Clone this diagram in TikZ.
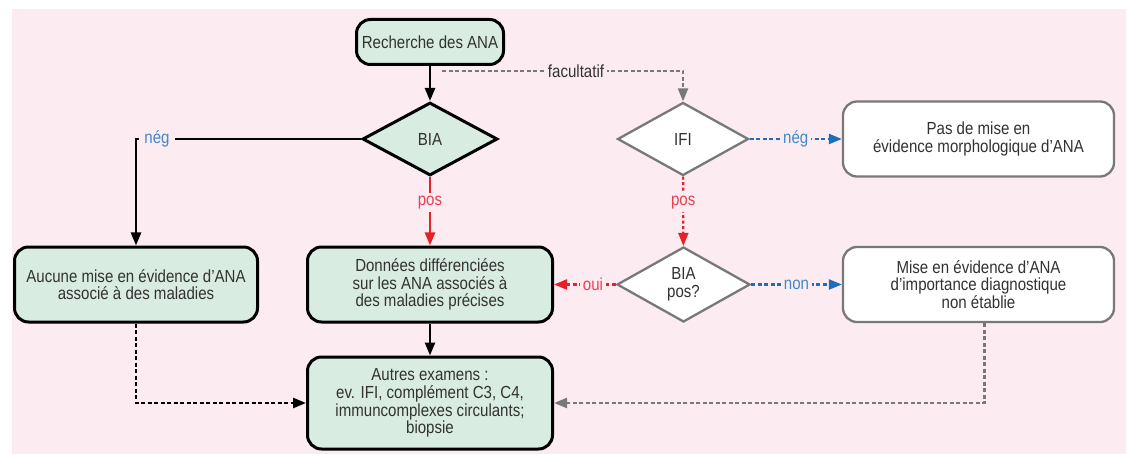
\documentclass[tikz,border=0pt]{standalone}
\usepackage{fontspec}
\setmainfont[FakeStretch=0.86]{Liberation Sans}
\usetikzlibrary{shapes.geometric,arrows.meta}
\definecolor{fondrose}{RGB}{252,236,242}
\definecolor{vertpale}{RGB}{217,236,225}
\definecolor{grisbord}{RGB}{120,120,120}
\definecolor{rouge}{RGB}{228,32,40}
\definecolor{rougeclair}{RGB}{232,64,84}
\definecolor{bleu}{RGB}{28,110,185}
\definecolor{bleuclair}{RGB}{66,136,200}
\definecolor{texte}{RGB}{50,50,50}
\tikzset{
  boite/.style={draw=black, line width=3pt, rounded corners=14pt, fill=vertpale, align=center, text=texte, inner sep=0pt},
  boiteg/.style={boite, draw=grisbord, line width=2.3pt, fill=white},
  losange/.style={diamond, draw=black, line width=3pt, fill=vertpale, inner sep=0pt, align=center, text=texte},
  losangeg/.style={losange, draw=grisbord, line width=2.3pt, fill=white},
  etiq/.style={fill=fondrose, inner sep=3pt},
  tirets/.style={dash pattern=on 4pt off 2.5pt},
}
\begin{document}
\begin{tikzpicture}[x=1pt, y=-1pt, >={Triangle[length=13pt,width=10pt]},
    every node/.style={font=\fontsize{17.5}{17.7}\selectfont}]
    % Fond
    \useasboundingbox (0,0) rectangle (1131,454);
    \fill[fondrose] (12,9) rectangle (1126,454);

    % Colonne BIA
    \node[boite, minimum width=147pt, minimum height=45pt] (recherche) at (430,42) {Recherche des ANA};
    \node[losange, minimum width=135pt, minimum height=73pt] (bia) at (430,139) {BIA};
    \node[boite, minimum width=243pt, minimum height=75pt] (aucune) at (136,284.5) {Aucune mise en évidence d'ANA\\associé à des maladies};
    \node[boite, minimum width=245pt, minimum height=75pt] (donnees) at (430,284.5) {Données différenciées\\sur les ANA associés à\\des maladies précises};
    \node[boite, minimum width=245pt, minimum height=92pt] (autres) at (430,403) {Autres examens :\\ev. IFI, complément C3, C4,\\immuncomplexes circulants;\\biopsie};

    % Colonne IFI
    \node[losangeg, minimum width=131pt, minimum height=73pt] (ifi) at (683,139) {IFI};
    \node[boiteg, minimum width=271pt, minimum height=75pt] (pasmise) at (978.5,139) {Pas de mise en\\évidence morphologique d'ANA};
    \node[losangeg, minimum width=133pt, minimum height=75pt] (biapos) at (683.5,284.5) {BIA\\pos?};
    \node[boiteg, minimum width=271pt, minimum height=75pt] (miseev) at (978.5,284.5) {Mise en évidence d'ANA\\d'importance diagnostique\\non établie};

    % Flèches
    \draw[->, line width=2.5pt] (recherche) -- (bia);
    \coordinate (facdep) at (442,71);
    \draw[->, grisbord, line width=2.2pt, tirets] (facdep) -- node[etiq, text=texte, pos=0.556] (facult) {facultatif} (ifi.north |- facdep) -- (ifi.north);

    \draw[->, line width=2.5pt] (bia.west) -- (aucune.north |- bia.west) -- (aucune.north);
    \node[etiq, text=bleuclair, inner xsep=5pt] (negbia) at (157,139) {nég};
    \draw[->, rouge, line width=2.5pt] (bia) -- node[etiq, text=rougeclair, pos=0.37] (posbia) {pos} (donnees);

    \draw[->, bleu, line width=2.2pt, tirets] (ifi) -- node[etiq, text=bleuclair] (negifi) {nég} (pasmise);
    \draw[->, rouge, line width=2.2pt, dash pattern=on 3pt off 2.5pt] (ifi) -- node[etiq, text=rougeclair, pos=0.37] (posifi) {pos} (biapos);
    \draw[->, rouge, line width=2.2pt, tirets] (biapos) -- node[etiq, text=rougeclair, pos=0.37] (oui) {oui} (donnees);
    \draw[->, bleu, line width=2.2pt, tirets] (biapos) -- node[etiq, text=bleuclair] (non) {non} (miseev);

    \draw[->, line width=2.5pt] (donnees) -- (autres);
    \draw[->, line width=2.5pt, tirets] (aucune.south) |- (autres.west);
    \draw[->, grisbord, line width=2.2pt, tirets] ([xshift=6pt]miseev.south) |- (autres.east);
\end{tikzpicture}
\end{document}
